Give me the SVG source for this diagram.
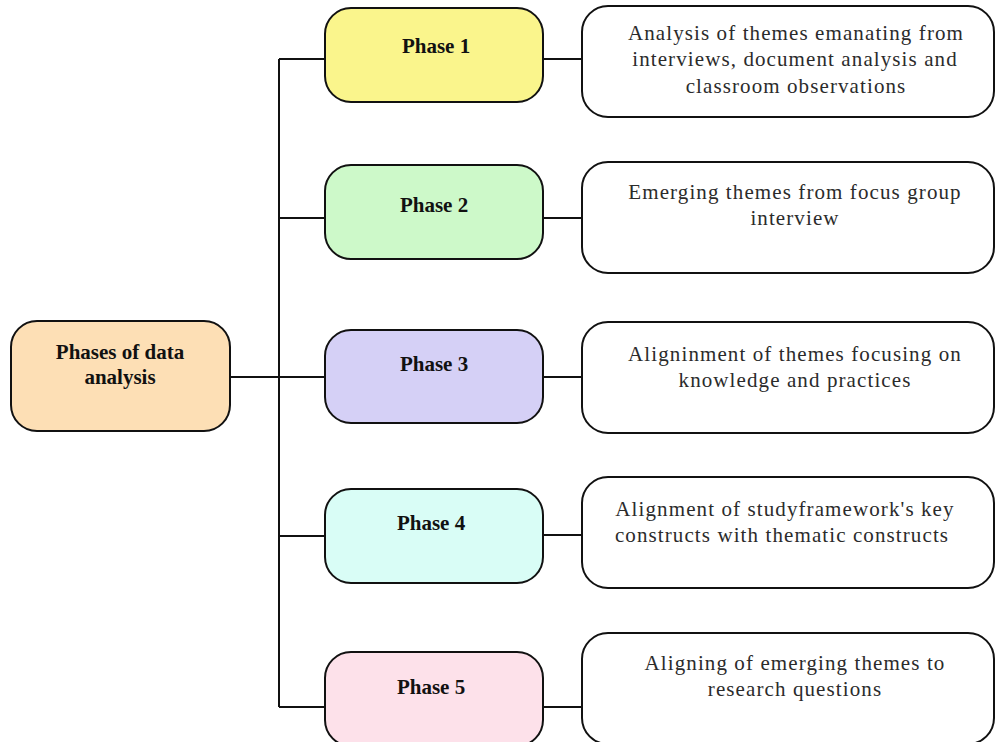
<svg xmlns="http://www.w3.org/2000/svg" width="995" height="742" viewBox="0 0 995 742">
  <style>
    .box { stroke: #111; stroke-width: 2; }
    .root { fill: #fddfb5; }
    .p1 { fill: #faf58c; }
    .p2 { fill: #cdf9c9; }
    .p3 { fill: #d5d0f6; }
    .p4 { fill: #d9fdf6; }
    .p5 { fill: #fde1ea; }
    .desc { fill: #ffffff; }
    .head { font-family: "Liberation Serif", "Times New Roman", serif; font-weight: bold; font-size: 21px; fill: #111; text-anchor: middle; }
    .body { font-family: "Liberation Serif", "Times New Roman", serif; font-size: 21px; fill: #2b2b2b; text-anchor: middle; letter-spacing: 1.1px; }
    .wire { fill: none; stroke: #111; stroke-width: 2; }
  </style>

  <!-- connectors -->
  <g id="connectors">
    <path class="wire" d="M279 59 V707"/>
    <path class="wire" d="M230 377 H325"/>
    <path class="wire" d="M279 59 H325"/>
    <path class="wire" d="M279 218 H325"/>
    <path class="wire" d="M279 536 H325"/>
    <path class="wire" d="M279 707 H325"/>
    <path class="wire" d="M543 59 H582"/>
    <path class="wire" d="M543 218 H582"/>
    <path class="wire" d="M543 377 H582"/>
    <path class="wire" d="M543 535 H582"/>
    <path class="wire" d="M543 707 H582"/>
  </g>

  <!-- root -->
  <g id="root">
    <rect class="box root" x="11" y="321" width="219" height="110" rx="26"/>
    <text class="head" x="120" y="359">Phases of data</text>
    <text class="head" x="120" y="384">analysis</text>
  </g>

  <!-- phases -->
  <g id="phase1">
    <rect class="box p1" x="325" y="8" width="218" height="94" rx="26"/>
    <text class="head" x="436" y="53">Phase 1</text>
  </g>
  <g id="phase2">
    <rect class="box p2" x="325" y="165" width="218" height="94" rx="26"/>
    <text class="head" x="434" y="212">Phase 2</text>
  </g>
  <g id="phase3">
    <rect class="box p3" x="325" y="330" width="218" height="93" rx="26"/>
    <text class="head" x="434" y="371">Phase 3</text>
  </g>
  <g id="phase4">
    <rect class="box p4" x="325" y="489" width="218" height="94" rx="26"/>
    <text class="head" x="431" y="530">Phase 4</text>
  </g>
  <g id="phase5">
    <rect class="box p5" x="325" y="652" width="218" height="94" rx="26"/>
    <text class="head" x="431" y="694">Phase 5</text>
  </g>

  <!-- descriptions -->
  <g id="desc1">
    <rect class="box desc" x="582" y="6" width="412" height="111" rx="26"/>
    <text class="body" x="796" y="40">Analysis of themes emanating from</text>
    <text class="body" x="795" y="66">interviews, document analysis and</text>
    <text class="body" x="796" y="93">classroom observations</text>
  </g>
  <g id="desc2">
    <rect class="box desc" x="582" y="162" width="412" height="111" rx="26"/>
    <text class="body" x="795" y="199">Emerging themes from focus group</text>
    <text class="body" x="795" y="225">interview</text>
  </g>
  <g id="desc3">
    <rect class="box desc" x="582" y="322" width="412" height="111" rx="26"/>
    <text class="body" x="795" y="361">Aligninment of themes focusing on</text>
    <text class="body" x="795" y="387">knowledge and practices</text>
  </g>
  <g id="desc4">
    <rect class="box desc" x="582" y="477" width="412" height="111" rx="26"/>
    <text class="body" x="785" y="516">Alignment of studyframework's key</text>
    <text class="body" x="782" y="542">constructs with thematic constructs</text>
  </g>
  <g id="desc5">
    <rect class="box desc" x="582" y="633" width="412" height="111" rx="26"/>
    <text class="body" x="795" y="670">Aligning of emerging themes to</text>
    <text class="body" x="795" y="696">research questions</text>
  </g>
</svg>
